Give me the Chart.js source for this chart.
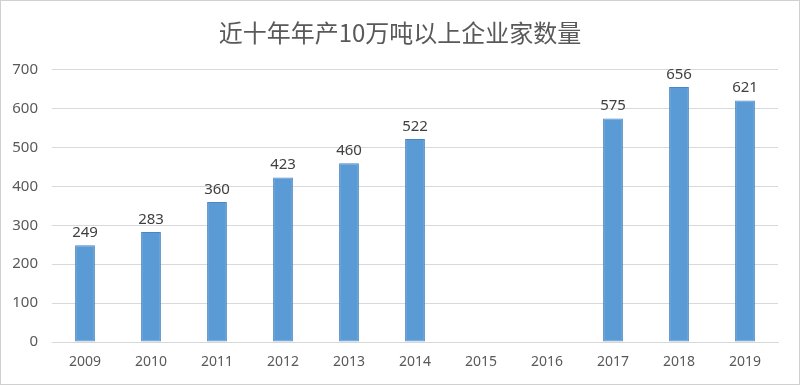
<!DOCTYPE html>
<html><head><meta charset="utf-8">
<script src="https://cdn.jsdelivr.net/npm/chart.js@4/dist/chart.umd.min.js"></script>
<style>html,body{margin:0;padding:0;background:#fff}#wrap{width:800px;height:385px}</style>
</head><body><div id="wrap"><canvas id="c" width="800" height="385"></canvas></div>
<script>
const categories = ["2009","2010","2011","2012","2013","2014","2015","2016","2017","2018","2019"];
const values = [249, 283, 360, 423, 460, 522, null, null, 575, 656, 621];
const chartTitle = "近十年年产10万吨以上企业家数量";
const yMin = 0, yMax = 700, yStep = 100;

const bgBorder = {
  id: 'bgBorder',
  beforeDraw(chart) {
    const ctx = chart.ctx;
    ctx.save();
    ctx.fillStyle = '#fff';
    ctx.fillRect(0, 0, chart.width, chart.height);
    ctx.restore();
  },
  afterDraw(chart) {
    const ctx = chart.ctx;
    ctx.save();
    ctx.strokeStyle = '#d0d0d0';
    ctx.lineWidth = 1;
    ctx.strokeRect(0.5, 0.5, chart.width - 1, chart.height - 1);
    ctx.restore();
  }
};
const valueLabels = {
  id: 'valueLabels',
  afterDatasetsDraw(chart) {
    const ctx = chart.ctx;
    const meta = chart.getDatasetMeta(0);
    ctx.save();
    ctx.font = '15px "Noto Sans", "DejaVu Sans", sans-serif';
    ctx.fillStyle = '#404040';
    ctx.textAlign = 'center';
    ctx.textBaseline = 'bottom';
    meta.data.forEach((bar, i) => {
      const v = chart.data.datasets[0].data[i];
      if (v == null) return;
      ctx.fillText(String(v), bar.x, bar.y - 5);
    });
    ctx.restore();
  }
};

new Chart(document.getElementById('c'), {
  type: 'bar',
  data: {
    labels: categories,
    datasets: [{
      data: values,
      backgroundColor: '#5B9BD5',
      borderColor: '#4A86C0',
      borderWidth: 1,
      borderSkipped: false,
      categoryPercentage: 1,
      barPercentage: 0.3
    }]
  },
  options: {
    responsive: false,
    animation: false,
    devicePixelRatio: 1,
    layout: { padding: 0 },
    plugins: {
      legend: { display: false },
      tooltip: { enabled: false },
      title: {
        display: true,
        text: chartTitle,
        color: '#595959',
        font: { family: '"Noto Sans CJK SC", sans-serif', size: 24, weight: 'normal', lineHeight: 1.2 },
        padding: { top: 18, bottom: 23 }
      }
    },
    scales: {
      x: {
        grid: { display: false, drawTicks: false },
        border: { display: true, color: '#d9d9d9' },
        ticks: { color: '#595959', padding: 12, font: { family: '"Noto Sans", sans-serif', size: 14 }, maxRotation: 0 },
        afterFit(s) { s.height = 43; }
      },
      y: {
        min: yMin, max: yMax,
        ticks: { stepSize: yStep, color: '#595959', padding: 14, font: { family: '"Noto Sans", sans-serif', size: 15 } },
        grid: { color: '#d9d9d9', drawTicks: false },
        border: { display: false },
        afterFit(s) { s.width = 52; }
      },
      yRightSpace: {
        position: 'right',
        min: yMin, max: yMax,
        ticks: { display: false },
        grid: { display: false, drawTicks: false },
        border: { display: false },
        afterFit(s) { s.width = 22; }
      }
    }
  },
  plugins: [bgBorder, valueLabels]
});
</script></body></html>
